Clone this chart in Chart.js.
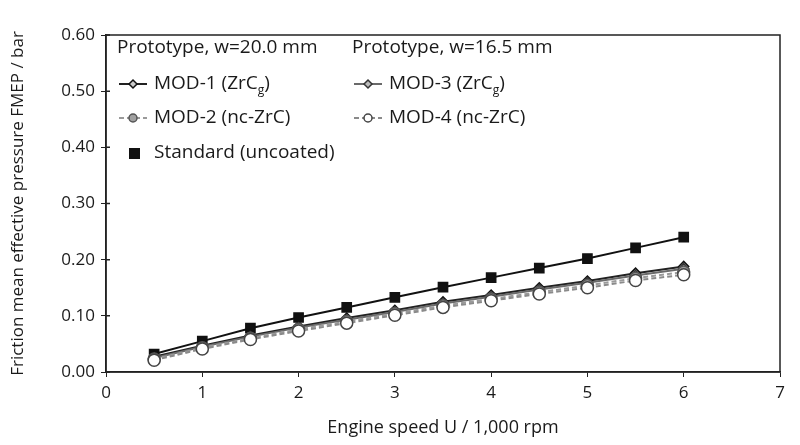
<!DOCTYPE html>
<html>
<head>
<meta charset="utf-8">
<script src="https://cdn.jsdelivr.net/npm/chart.js@4"></script>
<style>
  body { margin: 0; background: #fff; }
  #wrap { width: 800px; height: 445px; }
</style>
</head>
<body>
<div id="wrap"><canvas id="fmepChart" width="800" height="445"></canvas></div>
<script>
// engine speed, 1000 rpm
const speeds = [0.5, 1, 1.5, 2, 2.5, 3, 3.5, 4, 4.5, 5, 5.5, 6];
// FMEP values in bar
const standard = [0.032, 0.055, 0.078, 0.097, 0.115, 0.133, 0.151, 0.168, 0.185, 0.202, 0.221, 0.240];
const mod1 = [0.027, 0.047, 0.065, 0.081, 0.096, 0.110, 0.125, 0.137, 0.150, 0.162, 0.176, 0.188];
const mod3 = [0.025, 0.045, 0.063, 0.079, 0.093, 0.107, 0.122, 0.134, 0.147, 0.159, 0.172, 0.184];
const mod2 = [0.023, 0.043, 0.060, 0.076, 0.090, 0.104, 0.118, 0.130, 0.142, 0.154, 0.167, 0.178];
const mod4 = [0.021, 0.041, 0.058, 0.073, 0.087, 0.101, 0.115, 0.127, 0.139, 0.150, 0.163, 0.173];
const yTicks = [0, 0.1, 0.2, 0.3, 0.4, 0.5, 0.6];

const FONT = "'Open Sans', 'DejaVu Sans', sans-serif";
const INK = "#1a1a1a";

function pts(vals) {
  return vals.map((v, i) => ({ x: speeds[i], y: v }));
}

// === Series definitions ===
const series = [
  { label: "MOD-4 (nc-ZrC)", data: pts(mod4), borderColor: "#8a8a8a", borderDash: [5, 3],
    pointStyle: "circle", pointRadius: 6, pointBackgroundColor: "#fff", pointBorderColor: "#444" },
  { label: "MOD-2 (nc-ZrC)", data: pts(mod2), borderColor: "#9a9a9a", borderDash: [5, 3],
    pointStyle: "circle", pointRadius: 6, pointBackgroundColor: "#a0a0a0", pointBorderColor: "#555" },
  { label: "MOD-3 (ZrC", sub: "g", data: pts(mod3), borderColor: "#6a6a6a",
    pointStyle: "rectRot", pointRadius: 5, pointBackgroundColor: "#bbb", pointBorderColor: "#333" },
  { label: "MOD-1 (ZrC", sub: "g", data: pts(mod1), borderColor: "#222",
    pointStyle: "rectRot", pointRadius: 5, pointBackgroundColor: "#ccc", pointBorderColor: "#111" },
  { label: "Standard (uncoated)", data: pts(standard), borderColor: "#111",
    pointStyle: "rect", pointRadius: 6.5, pointBackgroundColor: "#111", pointBorderColor: "#111" }
];

// === Frame round the plot area ===
const framePlugin = {
  id: "frame",
  afterDraw(chart) {
    const { ctx, chartArea: a } = chart;
    ctx.save();
    ctx.strokeStyle = "#222";
    ctx.lineWidth = 1.5;
    ctx.strokeRect(a.left, a.top, a.right - a.left, a.bottom - a.top);
    // y tick marks poke into the plot a little too
    const ys = chart.scales.y;
    ctx.beginPath();
    yTicks.forEach(v => {
      const py = ys.getPixelForValue(v);
      ctx.moveTo(a.left, py);
      ctx.lineTo(a.left + 4, py);
    });
    ctx.stroke();
    ctx.restore();
  }
};

// === Two column legend with headers, drawn by hand ===
const legendPlugin = {
  id: "customLegend",
  afterDraw(chart) {
    const ctx = chart.ctx;
    const byLabel = (l) => chart.data.datasets.find(d => d.label === l);
    const big = "19px " + FONT;
    ctx.save();
    ctx.font = big;
    ctx.fillStyle = INK;
    ctx.textBaseline = "middle";
    ctx.fillText("Prototype, w=20.0 mm", 117, 48);
    ctx.fillText("Prototype, w=16.5 mm", 352, 48);

    const entries = [
      { ds: byLabel("MOD-1 (ZrC"), x: 119, y: 84 },
      { ds: byLabel("MOD-2 (nc-ZrC)"), x: 119, y: 118 },
      { ds: byLabel("MOD-3 (ZrC"), x: 354, y: 84 },
      { ds: byLabel("MOD-4 (nc-ZrC)"), x: 354, y: 118 }
    ];
    entries.forEach(e => {
      const ds = e.ds;
      ctx.strokeStyle = ds.borderColor;
      ctx.lineWidth = 2;
      ctx.setLineDash(ds.borderDash || []);
      ctx.beginPath();
      ctx.moveTo(e.x, e.y);
      ctx.lineTo(e.x + 28, e.y);
      ctx.stroke();
      ctx.setLineDash([]);
      ctx.fillStyle = ds.pointBackgroundColor;
      ctx.strokeStyle = ds.pointBorderColor;
      ctx.lineWidth = 1.5;
      Chart.helpers.drawPoint(ctx, { pointStyle: ds.pointStyle, radius: 4, borderWidth: 1.5 }, e.x + 14, e.y);
      ctx.fillStyle = INK;
      ctx.font = big;
      ctx.fillText(ds.label, e.x + 35, e.y);
      if (ds.sub) {
        const w = ctx.measureText(ds.label).width;
        ctx.font = "12px " + FONT;
        ctx.fillText(ds.sub, e.x + 35 + w, e.y + 7);
        const ws = ctx.measureText(ds.sub).width;
        ctx.font = big;
        ctx.fillText(")", e.x + 35 + w + ws, e.y);
      }
    });
    // standard square
    ctx.fillStyle = "#111";
    ctx.fillRect(129, 148, 11, 11);
    ctx.fillStyle = INK;
    ctx.fillText("Standard (uncoated)", 154, 153);
    ctx.restore();
  }
};

const ctx = document.getElementById("fmepChart");
new Chart(ctx.getContext("2d"), {
  type: "line",
  data: {
    datasets: series.map(s => Object.assign({
      borderWidth: 2,
      pointBorderWidth: 1.5,
      tension: 0,
      fill: false
    }, s))
  },
  options: {
    responsive: false,
    animation: false,
    layout: { padding: { top: 35, right: 20, left: 0, bottom: 0 } },
    plugins: {
      legend: { display: false },
      tooltip: { enabled: false }
    },
    scales: {
      x: {
        type: "linear",
        min: 0,
        max: 7,
        ticks: { stepSize: 1, color: INK, font: { family: FONT, size: 17 }, padding: 6 },
        grid: { drawOnChartArea: false, drawTicks: true, tickLength: 5, color: "#222" },
        border: { color: "#222", width: 1.5 },
        title: { display: true, text: "Engine speed U / 1,000 rpm", color: INK,
                 font: { family: FONT, size: 18 }, padding: { top: 2, bottom: 6 } },
        afterFit(scale) { scale.height = 73; }
      },
      y: {
        min: 0,
        max: 0.6,
        afterBuildTicks(scale) { scale.ticks = yTicks.map(v => ({ value: v })); },
        ticks: { color: INK, font: { family: FONT, size: 17 }, padding: 6,
                 callback: v => v.toFixed(2) },
        grid: { drawOnChartArea: false, drawTicks: true, tickLength: 5, color: "#222" },
        border: { color: "#222", width: 1.5 },
        title: { display: true, text: "Friction mean effective pressure FMEP / bar", color: INK,
                 font: { family: FONT, size: 17 }, padding: { top: 8, bottom: 4 } },
        afterFit(scale) { scale.width = 106; }
      }
    }
  },
  plugins: [framePlugin, legendPlugin]
});
</script>
</body>
</html>
